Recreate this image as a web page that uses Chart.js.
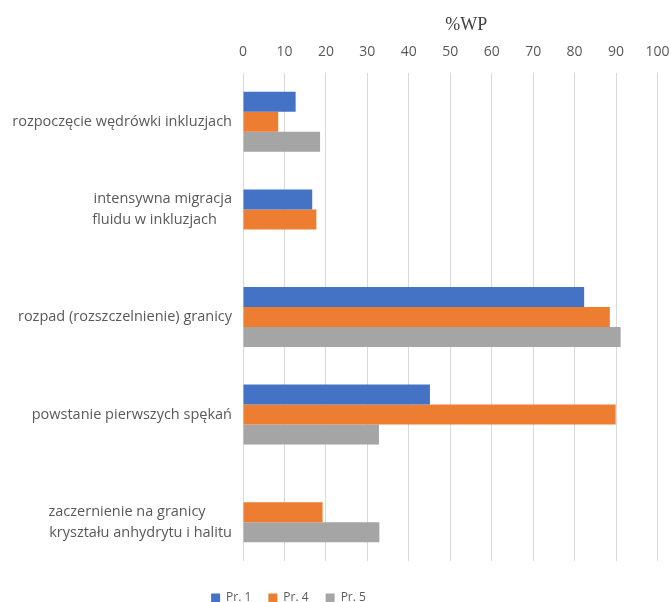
<!DOCTYPE html>
<html>
<head>
<meta charset="utf-8">
<script src="https://cdn.jsdelivr.net/npm/chart.js@4.4.1/dist/chart.umd.min.js"></script>
<style>
  html, body { margin: 0; padding: 0; background: #ffffff; }
  #c { display: block; }
  .fl { font-family: "Open Sans"; position: absolute; left: -1000px; }
  .fs { font-family: "Liberation Serif"; position: absolute; left: -1000px; }
</style>
</head>
<body>
<span class="fl">Aa</span><span class="fs">Aa</span>
<canvas id="c" width="671" height="602"></canvas>
<script>
// ---- data ----
const categories = [
  "rozpoczęcie wędrówki inkluzjach",
  ["intensywna migracja", "fluidu w inkluzjach    ", ""],
  "rozpad (rozszczelnienie) granicy",
  "powstanie pierwszych spękań",
  ["", "zaczernienie na granicy       ", "kryształu anhydrytu i halitu"]
];
const seriesNames = ["Pr. 1", "Pr. 4", "Pr. 5"];
const pr1 = [12.7, 16.7, 82.3, 45.1, null];
const pr4 = [8.5, 17.7, 88.5, 89.9, 19.2];
const pr5 = [18.6, null, 91.1, 32.8, 32.9];
const xTicks = [0, 10, 20, 30, 40, 50, 60, 70, 80, 90, 100];
const axisTitle = "%WP";

// ---- styling ----
const colors = ["#4472C4", "#ED7D31", "#A5A5A5"];
const textColor = "#595959";
const gridColor = "#D9D9D9";

const titlePlugin = {
  id: 'axisTitleTop',
  afterDraw(chart) {
    const ctx = chart.ctx;
    const ca = chart.chartArea;
    ctx.save();
    ctx.font = '18px "Liberation Serif", "Times New Roman", serif';
    ctx.fillStyle = '#404040';
    ctx.textAlign = 'center';
    ctx.textBaseline = 'middle';
    ctx.fillText(axisTitle, (ca.left + ca.right) / 2 + 16, 25);
    ctx.restore();
  }
};

const legendPlace = {
  id: 'legendPlace',
  afterLayout(chart) {
    const lg = chart.legend;
    const h = lg.bottom - lg.top;
    lg.left = 0;
    lg.right = 577;
    lg.top = 575;
    lg.bottom = 575 + h;
  }
};

function build() {
  new Chart(document.getElementById('c'), {
    type: 'bar',
    data: {
      labels: categories,
      datasets: [
        { label: seriesNames[0], data: pr1, backgroundColor: colors[0] },
        { label: seriesNames[1], data: pr4, backgroundColor: colors[1] },
        { label: seriesNames[2], data: pr5, backgroundColor: colors[2] }
      ]
    },
    options: {
      indexAxis: 'y',
      responsive: false,
      animation: false,
      devicePixelRatio: 1,
      layout: { padding: { left: 0, right: 13.5, top: 0, bottom: 2 } },
      datasets: { bar: { barPercentage: 1.0, categoryPercentage: 0.615, borderWidth: 0 } },
      scales: {
        x: {
          position: 'top',
          min: 0,
          max: 100,
          afterBuildTicks(scale) { scale.ticks = xTicks.map(v => ({ value: v })); },
          afterFit(scale) { scale.height = 73; scale.paddingLeft = 0; scale.paddingRight = 0; },
          border: { display: false },
          grid: { color: gridColor, lineWidth: 1, drawTicks: false },
          ticks: {
            color: textColor,
            padding: 13,
            font: { family: '"Open Sans", sans-serif', size: 14 },
            maxRotation: 0
          },
          title: { display: false }
        },
        y: {
          afterFit(scale) { scale.width = 243; scale.paddingTop = 0; scale.paddingBottom = 0; },
          border: { display: false },
          grid: { display: false, drawTicks: false },
          ticks: {
            color: textColor,
            padding: 11,
            font: { family: '"Open Sans", sans-serif', size: 14.5, lineHeight: 1.4 }
          }
        }
      },
      plugins: {
        legend: {
          position: 'bottom',
          labels: {
            boxWidth: 9,
            boxHeight: 9,
            padding: 17,
            color: textColor,
            font: { family: '"Open Sans", sans-serif', size: 12 }
          }
        },
        tooltip: { enabled: false },
        title: { display: false }
      }
    },
    plugins: [titlePlugin, legendPlace]
  });
}

Promise.all([
  document.fonts.load('13px "Open Sans"'),
  document.fonts.load('18px "Liberation Serif"')
]).then(build, build);
</script>
</body>
</html>
